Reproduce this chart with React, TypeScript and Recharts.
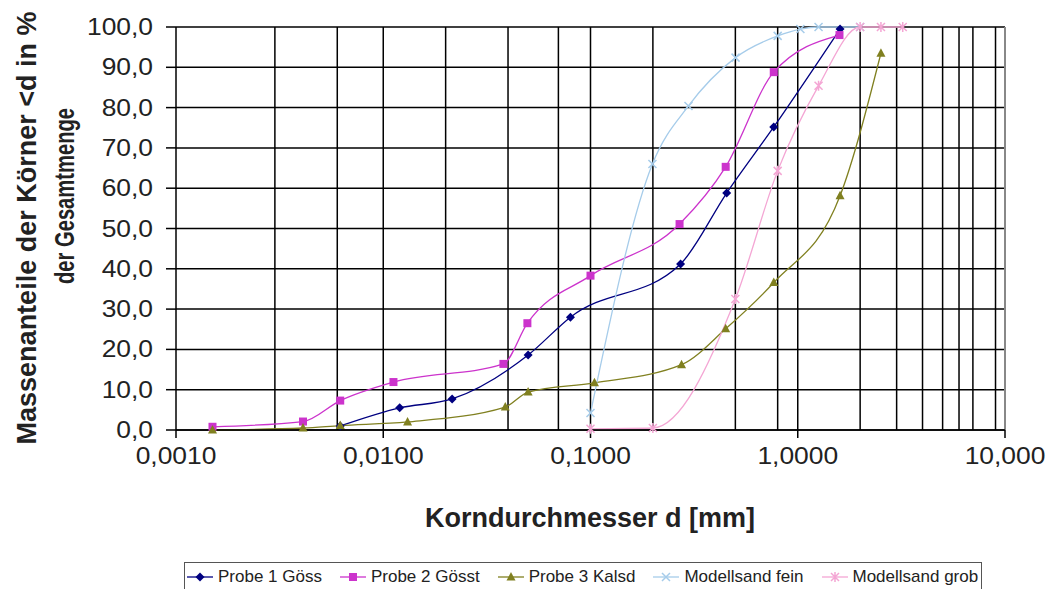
import React from "react";
import { CartesianGrid, Line, LineChart, ReferenceLine, XAxis, YAxis } from "recharts";

// Korngrößenverteilung: d in mm, Massenanteil in %
const probe1 = [
  { d: 0.0062, p: 1.0 },
  { d: 0.012, p: 5.5 },
  { d: 0.0215, p: 7.7 },
  { d: 0.05, p: 18.6 },
  { d: 0.08, p: 28.0 },
  { d: 0.272, p: 41.2 },
  { d: 0.454, p: 58.8 },
  { d: 0.766, p: 75.2 },
  { d: 1.6, p: 99.5 },
];

const probe2 = [
  { d: 0.0015, p: 0.8 },
  { d: 0.0041, p: 2.1 },
  { d: 0.0062, p: 7.3 },
  { d: 0.0112, p: 11.9 },
  { d: 0.038, p: 16.4 },
  { d: 0.0496, p: 26.5 },
  { d: 0.1, p: 38.3 },
  { d: 0.269, p: 51.1 },
  { d: 0.449, p: 65.3 },
  { d: 0.766, p: 88.8 },
  { d: 1.59, p: 98.0 },
];

const probe3 = [
  { d: 0.0015, p: 0.0 },
  { d: 0.0041, p: 0.5 },
  { d: 0.0062, p: 1.1 },
  { d: 0.0131, p: 2.0 },
  { d: 0.0388, p: 5.7 },
  { d: 0.05, p: 9.4 },
  { d: 0.1045, p: 11.7 },
  { d: 0.275, p: 16.2 },
  { d: 0.449, p: 25.1 },
  { d: 0.766, p: 36.6 },
  { d: 1.6, p: 58.1 },
  { d: 2.52, p: 93.5 },
];

const sandFein = [
  { d: 0.1, p: 4.2 },
  { d: 0.199, p: 66.0 },
  { d: 0.297, p: 80.4 },
  { d: 0.501, p: 92.4 },
  { d: 0.8, p: 97.8 },
  { d: 1.03, p: 99.5 },
  { d: 1.26, p: 100.0 },
  { d: 2.0, p: 100.0 },
];

const sandGrob = [
  { d: 0.1, p: 0.3 },
  { d: 0.2, p: 0.5 },
  { d: 0.5, p: 32.5 },
  { d: 0.8, p: 64.3 },
  { d: 1.26, p: 85.4 },
  { d: 2.0, p: 100.0 },
  { d: 2.52, p: 100.0 },
  { d: 3.21, p: 100.0 },
];

const xTicks = [0.001, 0.01, 0.1, 1, 10];
const xTickLabels = ["0,0010", "0,0100", "0,1000", "1,0000", "10,000"];
const yTicks = [0, 10, 20, 30, 40, 50, 60, 70, 80, 90, 100];

// log grid: 2..9 in every decade plus the decades themselves
const gridX: number[] = [];
[0.001, 0.01, 0.1, 1].forEach((dec) => {
  for (let k = 1; k <= 9; k++) if (dec * k > 0.001) gridX.push(dec * k);
});

const FONT = "Arial, 'Liberation Sans', sans-serif";

const series = [
  { name: "Probe 1 Göss", data: probe1, color: "#000080", marker: "diamond" },
  { name: "Probe 2 Gösst", data: probe2, color: "#CC33CC", marker: "square" },
  { name: "Probe 3 Kalsd", data: probe3, color: "#808020", marker: "triangle" },
  { name: "Modellsand fein", data: sandFein, color: "#A6CCEA", marker: "cross" },
  { name: "Modellsand grob", data: sandGrob, color: "#F4A6D4", marker: "star" },
];

function Marker({ cx, cy, type, color }: { cx: number; cy: number; type: string; color: string }) {
  if (type === "diamond")
    return <path d={`M${cx},${cy - 4.5}L${cx + 4.5},${cy}L${cx},${cy + 4.5}L${cx - 4.5},${cy}Z`} fill={color} />;
  if (type === "square") return <rect x={cx - 4} y={cy - 4} width={8} height={8} fill={color} />;
  if (type === "triangle")
    return <path d={`M${cx},${cy - 5}L${cx + 4.5},${cy + 3.5}L${cx - 4.5},${cy + 3.5}Z`} fill={color} />;
  if (type === "cross")
    return (
      <path d={`M${cx - 4},${cy - 4}L${cx + 4},${cy + 4}M${cx - 4},${cy + 4}L${cx + 4},${cy - 4}`} stroke={color} strokeWidth={1.5} />
    );
  return (
    <path
      d={`M${cx - 4},${cy - 4}L${cx + 4},${cy + 4}M${cx - 4},${cy + 4}L${cx + 4},${cy - 4}M${cx},${cy - 5}L${cx},${cy + 5}`}
      stroke={color}
      strokeWidth={1.5}
    />
  );
}

const XTick = ({ x, y, payload }: any) => {
  const i = xTicks.indexOf(payload.value);
  return (
    <text transform={`translate(${x},${y + 24}) scale(1.1,1)`} textAnchor="middle" fontFamily={FONT} fontSize={24} fill="#222">
      {xTickLabels[i] ?? ""}
    </text>
  );
};

const YTick = ({ x, y, payload }: any) => (
  <text transform={`translate(${x},${y + 8}) scale(1.1,1)`} textAnchor="end" fontFamily={FONT} fontSize={24} fill="#222">
    {payload.value.toFixed(1).replace(".", ",")}
  </text>
);

function LegendIcon({ color, marker }: { color: string; marker: string }) {
  return (
    <svg width={26} height={14} style={{ display: "block" }}>
      <line x1={0} y1={7} x2={26} y2={7} stroke={color} strokeWidth={1.3} />
      <Marker cx={13} cy={7} type={marker} color={color} />
    </svg>
  );
}

export default function App() {
  return (
    <div style={{ position: "absolute", left: 0, top: 0, width: 1046, height: 589, overflow: "hidden", background: "#fff" }}>
      <LineChart width={1046} height={589} margin={{ top: 27, right: 41, left: 0, bottom: 119 }}>
        <CartesianGrid stroke="#000" strokeWidth={1.5} verticalValues={gridX} />
        <ReferenceLine x={10} stroke="#888" strokeWidth={2} />
        <XAxis
          type="number"
          dataKey="d"
          scale="log"
          domain={[0.001, 10]}
          ticks={xTicks}
          tick={<XTick />}
          tickSize={8}
          height={40}
          axisLine={{ stroke: "#000", strokeWidth: 1.5 }}
          tickLine={{ stroke: "#000", strokeWidth: 1.5 }}
          allowDataOverflow
        />
        <YAxis
          type="number"
          domain={[0, 100]}
          ticks={yTicks}
          tick={<YTick />}
          width={176}
          tickSize={10}
          tickMargin={13}
          axisLine={{ stroke: "#000", strokeWidth: 1.5 }}
          tickLine={{ stroke: "#000", strokeWidth: 1.5 }}
        />
        {series.map((s) => (
          <Line
            key={s.name}
            data={s.data}
            dataKey="p"
            name={s.name}
            type="monotone"
            stroke={s.color}
            strokeWidth={1.3}
            isAnimationActive={false}
            dot={(props: any) => <Marker key={`${s.name}-${props.index}`} cx={props.cx} cy={props.cy} type={s.marker} color={s.color} />}
            activeDot={false}
          />
        ))}
      </LineChart>

      <svg width={1046} height={589} style={{ position: "absolute", left: 0, top: 0, pointerEvents: "none" }}>
        <text
          transform="translate(36,228) rotate(-90)"
          textAnchor="middle"
          fontFamily={FONT}
          fontWeight="bold"
          fontSize={27}
          fill="#222"
        >
          Massenanteile der Körner &lt;d in %
        </text>
        <text
          transform="translate(74,196) rotate(-90)"
          textAnchor="middle"
          fontFamily={FONT}
          fontWeight="bold"
          fontSize={27}
          textLength={176}
          lengthAdjust="spacingAndGlyphs"
          fill="#222"
        >
          der Gesamtmenge
        </text>
        <text x={590} y={527} textAnchor="middle" fontFamily={FONT} fontWeight="bold" fontSize={27} fill="#222">
          Korndurchmesser d [mm]
        </text>
      </svg>

      <div
        style={{
          position: "absolute",
          left: 184,
          top: 562,
          width: 798,
          height: 30,
          boxSizing: "border-box",
          border: "1.5px solid #555",
          display: "flex",
          alignItems: "center",
          paddingLeft: 2,
          fontFamily: FONT,
          fontSize: 17,
          color: "#222",
          whiteSpace: "nowrap",
        }}
      >
        {series.map((s) => (
          <div key={s.name} style={{ display: "flex", alignItems: "center", marginRight: 18 }}>
            <LegendIcon color={s.color} marker={s.marker} />
            <span style={{ marginLeft: 5 }}>{s.name}</span>
          </div>
        ))}
      </div>
    </div>
  );
}
